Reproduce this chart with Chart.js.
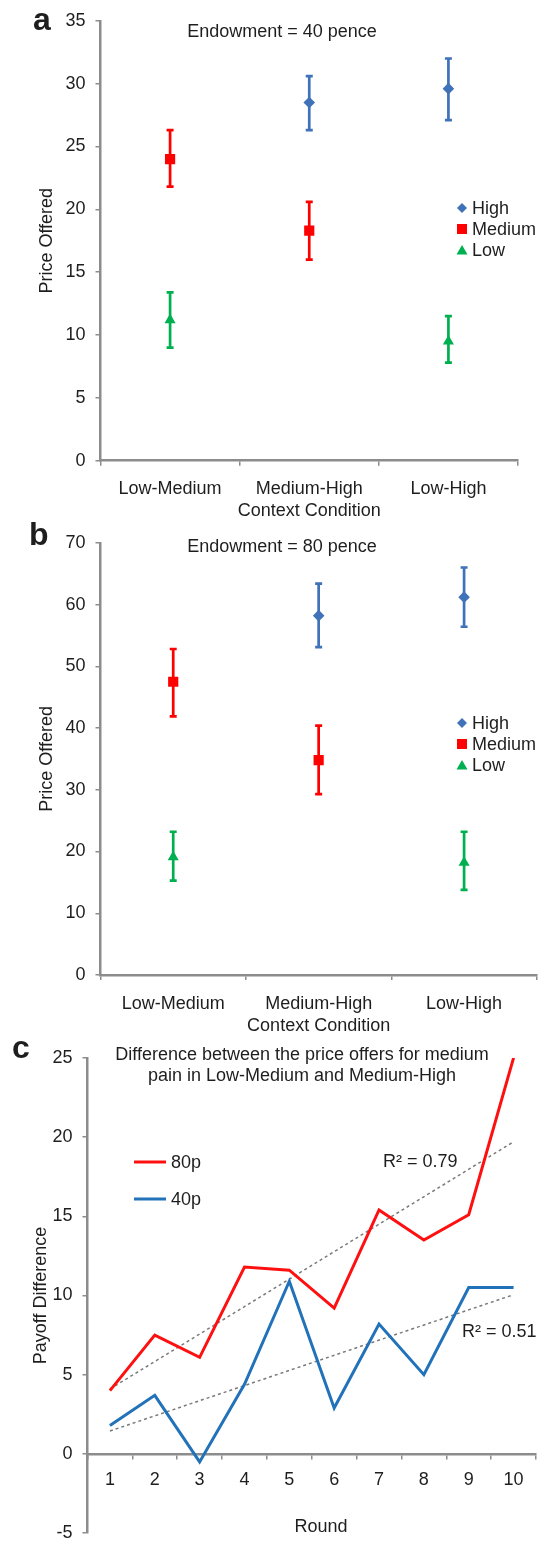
<!DOCTYPE html>
<html lang="en">
<head>
<meta charset="UTF-8">
<title>Price offered by context condition</title>
<style>
  body {
    margin: 0;
    background: #ffffff;
    width: 544px;
    height: 1554px;
    position: relative;
    overflow: hidden;
  }
  .panel {
    position: absolute;
    left: 0;
    width: 544px;
  }
  #panelA { top: 0; height: 522px; }
  #panelB { top: 522px; height: 515px; }
  #panelC { top: 1037px; height: 517px; }
</style>
</head>
<body>

<div class="panel" id="panelA"><canvas id="chartA"></canvas></div>
<div class="panel" id="panelB"><canvas id="chartB"></canvas></div>
<div class="panel" id="panelC"><canvas id="chartC"></canvas></div>

<script src="https://cdn.jsdelivr.net/npm/chart.js"></script>
<script>
const contextLabels = ['Low-Medium', 'Medium-High', 'Low-High'];

// panel a: endowment 40 pence (mean, error bar bottom, error bar top)
const a40High   = [null, 28.5, 29.6];
const a40HighLo = [null, 26.3, 27.1];
const a40HighHi = [null, 30.6, 32.0];
const a40Med    = [24.0, 18.3, null];
const a40MedLo  = [21.8, 16.0, null];
const a40MedHi  = [26.3, 20.6, null];
const a40Low    = [11.2, null, 9.5];
const a40LowLo  = [9.0, null, 7.8];
const a40LowHi  = [13.4, null, 11.5];

// panel b: endowment 80 pence
const b80High   = [null, 58.2, 61.2];
const b80HighLo = [null, 53.1, 56.4];
const b80HighHi = [null, 63.4, 66.0];
const b80Med    = [47.5, 34.8, null];
const b80MedLo  = [41.9, 29.3, null];
const b80MedHi  = [52.8, 40.4, null];
const b80Low    = [19.1, null, 18.2];
const b80LowLo  = [15.3, null, 13.8];
const b80LowHi  = [23.2, null, 23.2];

// panel c: payoff difference per round
const rounds  = ['1', '2', '3', '4', '5', '6', '7', '8', '9', '10'];
const diff80  = [4.0, 7.5, 6.1, 11.8, 11.6, 9.2, 15.4, 13.5, 15.1, 25.0];
const diff40  = [1.8, 3.7, -0.5, 4.4, 10.9, 2.9, 8.2, 5.0, 10.5, 10.5];
// trend lines as drawn, value at round 1 and round 10
const trend80 = [4.1, 19.7];
const trend40 = [1.45, 10.05];
const r2Labels = ['R² = 0.79', 'R² = 0.51'];

const FONT = "'Liberation Sans', Arial, sans-serif";
const TEXT = '#1e1e1e';
const AXIS = '#8c8c8c';
const BLUE = '#3f72b8';
const RED = '#ff0000';
const GREEN = '#00b050';

Chart.defaults.font.family = FONT;
Chart.defaults.font.size = 18;
Chart.defaults.color = TEXT;
Chart.defaults.animation = false;

// vertical error bars drawn behind the markers
const errorBars = {
  id: 'errorBars',
  beforeDatasetsDraw(chart) {
    const ctx = chart.ctx;
    const y = chart.scales.y;
    chart.data.datasets.forEach((ds, i) => {
      if (!ds.errLo) return;
      const meta = chart.getDatasetMeta(i);
      ctx.save();
      ctx.strokeStyle = ds.borderColor;
      ctx.lineWidth = 2.7;
      meta.data.forEach((pt, j) => {
        if (ds.data[j] == null) return;
        const top = y.getPixelForValue(ds.errHi[j]);
        const bot = y.getPixelForValue(ds.errLo[j]);
        ctx.beginPath();
        ctx.moveTo(pt.x, top); ctx.lineTo(pt.x, bot);
        ctx.moveTo(pt.x - 3.5, top); ctx.lineTo(pt.x + 3.5, top);
        ctx.moveTo(pt.x - 3.5, bot); ctx.lineTo(pt.x + 3.5, bot);
        ctx.stroke();
      });
      ctx.restore();
    });
  }
};

function drawMarker(ctx, style, x, y, color) {
  ctx.fillStyle = color;
  ctx.beginPath();
  if (style === 'rectRot') {
    ctx.moveTo(x, y - 5); ctx.lineTo(x + 5, y); ctx.lineTo(x, y + 5); ctx.lineTo(x - 5, y);
  } else if (style === 'rect') {
    ctx.rect(x - 5, y - 5, 10, 10);
  } else {
    ctx.moveTo(x, y - 5); ctx.lineTo(x + 5.5, y + 4.5); ctx.lineTo(x - 5.5, y + 4.5);
  }
  ctx.closePath();
  ctx.fill();
}

// free text: panel letter, titles, legends
function notes(items, legend) {
  return {
    id: 'notes',
    afterDraw(chart) {
      const ctx = chart.ctx;
      ctx.save();
      items.forEach(n => {
        ctx.font = n.font || ('18px ' + FONT);
        ctx.fillStyle = TEXT;
        ctx.textAlign = n.align || 'left';
        ctx.textBaseline = n.baseline || 'middle';
        ctx.fillText(n.text, n.x, n.y);
      });
      if (legend) {
        chart.data.datasets.forEach((ds, i) => {
          const y = legend.y + i * legend.gap;
          if (legend.type === 'marker') {
            drawMarker(ctx, ds.pointStyle, legend.x, y, ds.backgroundColor);
          } else {
            if (ds.isTrend) return;
            ctx.strokeStyle = ds.borderColor;
            ctx.lineWidth = 3;
            ctx.beginPath();
            ctx.moveTo(legend.x, y); ctx.lineTo(legend.x + 32, y);
            ctx.stroke();
          }
          ctx.font = '18px ' + FONT;
          ctx.fillStyle = TEXT;
          ctx.textAlign = 'left';
          ctx.textBaseline = 'middle';
          ctx.fillText(ds.label, legend.textX, y + 1);
        });
      }
      ctx.restore();
    }
  };
}

function pointSet(label, data, lo, hi, style, radius, color) {
  return {
    label: label, data: data, errLo: lo, errHi: hi,
    showLine: false, pointStyle: style, pointRadius: radius,
    pointHoverRadius: radius, pointBorderWidth: 0,
    backgroundColor: color, borderColor: color
  };
}

function priceChart(id, cfg) {
  new Chart(document.getElementById(id), {
    type: 'line',
    data: {
      labels: contextLabels,
      datasets: [
        pointSet('High', cfg.high, cfg.highLo, cfg.highHi, 'rectRot', 5.8, BLUE),
        pointSet('Medium', cfg.med, cfg.medLo, cfg.medHi, 'rect', 7.2, RED),
        pointSet('Low', cfg.low, cfg.lowLo, cfg.lowHi, 'triangle', 6.4, GREEN)
      ]
    },
    options: {
      responsive: true,
      maintainAspectRatio: false,
      layout: { padding: { top: cfg.top, right: cfg.right, left: 0, bottom: 0 } },
      plugins: { legend: { display: false }, tooltip: { enabled: false } },
      scales: {
        x: {
          offset: true,
          grid: { offset: true, drawOnChartArea: false, tickLength: 5, color: AXIS, lineWidth: 1.5 },
          border: { color: AXIS, width: 2.5 },
          ticks: { padding: 13, color: TEXT },
          title: { display: true, text: 'Context Condition', padding: 0, color: TEXT },
          afterFit: s => { s.height = cfg.xHeight; }
        },
        y: {
          min: 0,
          max: cfg.yMax,
          ticks: { stepSize: cfg.step, padding: 10, color: TEXT },
          grid: { drawOnChartArea: false, tickLength: 5, color: AXIS, lineWidth: 1.5 },
          border: { color: AXIS, width: 2.5 },
          title: { display: true, text: 'Price Offered', padding: { top: 36, bottom: 0 }, color: TEXT },
          afterFit: s => { s.width = 100.5; }
        }
      }
    },
    plugins: [errorBars, notes([
      { text: cfg.letter, x: cfg.letterX, y: cfg.letterY, font: 'bold 32px ' + FONT, baseline: 'alphabetic' },
      { text: cfg.title, x: 282, y: cfg.titleY, align: 'center' }
    ], { type: 'marker', x: 462, textX: 472, y: cfg.legendY, gap: 21 })]
  });
}

priceChart('chartA', {
  high: a40High, highLo: a40HighLo, highHi: a40HighHi,
  med: a40Med, medLo: a40MedLo, medHi: a40MedHi,
  low: a40Low, lowLo: a40LowLo, lowHi: a40LowHi,
  yMax: 35, step: 5, top: 20.5, right: 26, xHeight: 61.3,
  letter: 'a', letterX: 33, letterY: 30,
  title: 'Endowment = 40 pence', titleY: 32, legendY: 208
});

priceChart('chartB', {
  high: b80High, highLo: b80HighLo, highHi: b80HighHi,
  med: b80Med, medLo: b80MedLo, medHi: b80MedHi,
  low: b80Low, lowLo: b80LowLo, lowHi: b80LowHi,
  yMax: 70, step: 10, top: 14, right: 6, xHeight: 62,
  letter: 'b', letterX: 29, letterY: 23,
  title: 'Endowment = 80 pence', titleY: 25, legendY: 201
});

function trendSet(ends) {
  return {
    label: '', isTrend: true,
    data: [{ x: rounds[0], y: ends[0] }, { x: rounds[rounds.length - 1], y: ends[1] }],
    borderColor: '#7a7a7a', borderWidth: 1.5, borderDash: [3, 3], pointRadius: 0
  };
}

new Chart(document.getElementById('chartC'), {
  type: 'line',
  data: {
    labels: rounds,
    datasets: [
      { label: '80p', data: diff80, borderColor: '#ff1010', borderWidth: 3, pointRadius: 0, tension: 0 },
      { label: '40p', data: diff40, borderColor: '#2272b9', borderWidth: 3, pointRadius: 0, tension: 0 },
      trendSet(trend80),
      trendSet(trend40)
    ]
  },
  options: {
    responsive: true,
    maintainAspectRatio: false,
    layout: { padding: { top: 14, right: 8, left: 0, bottom: 10 } },
    plugins: { legend: { display: false }, tooltip: { enabled: false } },
    scales: {
      x: {
        position: { y: 0 },
        offset: true,
        grid: { offset: true, drawOnChartArea: false, tickLength: 4, color: AXIS, lineWidth: 1.5 },
        border: { color: AXIS, width: 2.5 },
        ticks: { padding: 11.5, color: TEXT },
        title: { display: false }
      },
      y: {
        min: -5,
        max: 25,
        ticks: { stepSize: 5, padding: 10, color: TEXT },
        grid: { drawOnChartArea: false, tickLength: 5, color: AXIS, lineWidth: 1.5 },
        border: { color: AXIS, width: 2.5 },
        title: { display: true, text: 'Payoff Difference', padding: { top: 30.7, bottom: 0 }, color: TEXT },
        afterFit: s => { s.width = 87.5; }
      }
    }
  },
  plugins: [notes([
    { text: 'c', x: 12, y: 21, font: 'bold 32px ' + FONT, baseline: 'alphabetic' },
    { text: 'Difference between the price offers for medium', x: 302, y: 18, align: 'center' },
    { text: 'pain in Low-Medium and Medium-High', x: 302, y: 39, align: 'center' },
    { text: 'Round', x: 321, y: 490, align: 'center' },
    { text: r2Labels[0], x: 383, y: 125 },
    { text: r2Labels[1], x: 462, y: 295 }
  ], { type: 'line', x: 134, textX: 171, y: 125, gap: 37 })]
});
</script>

</body>
</html>
